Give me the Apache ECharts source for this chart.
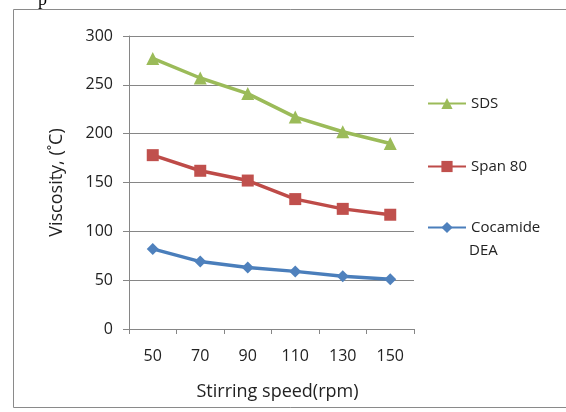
<!DOCTYPE html>
<html><head><meta charset="utf-8">
<script src="https://cdn.jsdelivr.net/npm/echarts@6/dist/echarts.min.js"></script>
<style>html,body{margin:0;padding:0;background:#fff}#c{width:566px;height:412px}</style>
</head><body><div id="c"></div>
<script>
const categories = ['50','70','90','110','130','150'];
const sds = [277, 257, 241, 217, 202, 190];
const span80 = [178, 162, 152, 133, 123, 117];
const cocamide = [82, 69, 63, 59, 54, 51];
const yTicks = [0, 50, 100, 150, 200, 250, 300];

const FONT = '"Open Sans", "Noto Sans", sans-serif';
const chart = echarts.init(document.getElementById('c'), null, {renderer:'canvas'});
const legendBase = {
  orient:'vertical', left: 427, padding:0, itemWidth: 38, itemHeight: 14, itemGap: 10,
  textStyle:{fontFamily:FONT, fontSize:15, color:'#222'}
};
chart.setOption({
  animation:false,
  backgroundColor:'#fff',
  graphic:[
    {type:'rect', shape:{x:13.5, y:9.5, width:600, height:398}, style:{fill:'none', stroke:'#8a8a8a', lineWidth:1}},
    {type:'text', left:38, top:-9, style:{text:'p', fontFamily:'"Liberation Serif", serif', fontSize:18, fill:'#000'}},
    {type:'text', left:469, top:243, style:{text:'DEA', fontFamily:FONT, fontSize:15, fill:'#222'}}
  ],
  grid:{left:129, right:152, top:36, bottom:83},
  legend:[
    Object.assign({}, legendBase, {top:96, data:['SDS']}),
    Object.assign({}, legendBase, {top:159, data:['Span 80']}),
    Object.assign({}, legendBase, {top:220, data:['Cocamide DEA'], formatter: n => 'Cocamide'})
  ],
  xAxis:{
    type:'category', data:categories, boundaryGap:true,
    name:'Stirring speed(rpm)', nameLocation:'middle', nameGap:54,
    nameTextStyle:{fontFamily:FONT, fontSize:18, color:'#222', padding:[0,0,0,12]},
    axisLine:{lineStyle:{color:'#868686', width:1}},
    axisTick:{show:true, length:5, inside:false, alignWithLabel:false, lineStyle:{color:'#868686'}},
    axisLabel:{fontFamily:FONT, fontSize:16, color:'#222', margin:19}
  },
  yAxis:{
    type:'value', min:0, max:300, interval:50,
    name:'Viscosity, (˚C)', nameLocation:'middle', nameGap:63, nameRotate:90,
    nameTextStyle:{fontFamily:FONT, fontSize:18, color:'#222'},
    axisLine:{show:true, lineStyle:{color:'#868686', width:1}},
    axisTick:{show:true, length:6, lineStyle:{color:'#868686'}},
    axisLabel:{fontFamily:FONT, fontSize:16, color:'#222', margin:16,
      formatter: v => yTicks.includes(v) ? String(v) : ''},
    splitLine:{lineStyle:{color:'#868686', width:1}}
  },
  series:[
    {name:'SDS', type:'line', data:sds, symbol:'triangle', symbolSize:13,
      lineStyle:{color:'#9BBB59', width:3.5}, itemStyle:{color:'#9BBB59'}},
    {name:'Span 80', type:'line', data:span80, symbol:'rect', symbolSize:12,
      lineStyle:{color:'#BE4B48', width:3.5}, itemStyle:{color:'#C0504D'}},
    {name:'Cocamide DEA', type:'line', data:cocamide, symbol:'diamond', symbolSize:12,
      lineStyle:{color:'#4A7EBB', width:3.5}, itemStyle:{color:'#4F81BD'}}
  ]
});
</script></body></html>
